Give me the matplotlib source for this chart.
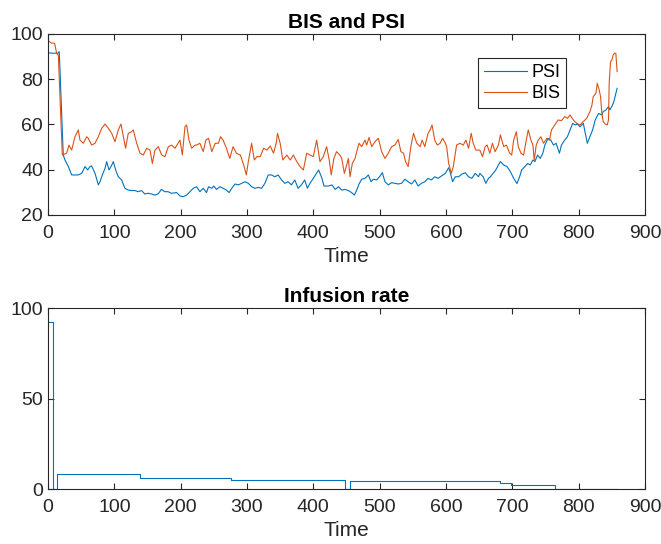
import matplotlib
matplotlib.use("Agg")
from matplotlib import pyplot as plt

# ========== data ==========#
bis_t = [0, 5, 10, 13, 15.6, 21.6, 28, 31.7, 35.7, 40.7, 45.7, 48.2, 53.3, 58.3, 60.8, 65.8,
         70.9, 75.9, 80.9, 86, 91, 96, 101, 106, 110, 113.6, 117, 121, 126, 128.6, 133.7,
         138.7, 143.7, 148.7, 153.8, 157.3, 161.3, 166.3, 171.4, 176.4, 181.4, 186.4, 191.5,
         199, 202.5, 206.5, 209, 212.6, 216.6, 221.6,
         224, 229, 234, 238, 242, 247, 252, 257, 260, 264, 269, 274, 279, 284, 290, 295, 299,
         302, 307, 311, 315, 320, 325, 330, 335, 340, 344, 346, 350, 354, 360, 365, 370, 375,
         380, 385, 390, 395, 400, 405, 410, 415, 420, 424, 427, 431, 435, 440,
         442.8, 446.8, 450.3, 452.8, 455.3, 458.8, 462.9, 465.4, 468.9, 472.9, 477.9, 480.4,
         484, 488, 493, 498, 503, 508, 513, 518, 523, 528, 532, 536, 539, 543, 547, 551, 556,
         561, 564, 568, 573, 576, 579, 583, 587, 591, 595, 599, 601, 604, 608, 611, 616, 621,
         626, 630, 634, 638, 641, 645,
         651, 655, 659, 662, 666, 670, 674, 679, 682, 687, 691, 696, 699, 702, 706, 709, 713,
         717, 721, 724, 728, 731, 733, 736, 739, 743, 747, 752, 756, 759, 764, 769, 774, 779,
         783, 787, 792, 797, 802, 807, 812, 817, 820, 822, 826, 828, 831, 833, 835, 837, 840,
         843, 845, 846, 848, 850, 852, 854, 856, 858]
bis_v = [97.1, 96.0, 95.9, 91.5, 90.5, 46.5, 47.3, 50.9, 48.7, 54.6, 57.6, 53.1, 51.7, 54.6,
         53.9, 50.9, 51.7, 54.6, 58.3, 60.2, 58.3, 56.1, 52.4, 57.6, 60.2, 54.6, 49.5, 56.1,
         56.8, 57.6, 51.7, 47.3, 46.5, 49.5, 48.7, 42.8, 48.7, 50.2, 46.5, 45.8, 50.2, 50.9,
         49.5, 53.1, 46.5, 59.0, 59.8, 53.1, 49.5, 50.9,
         50.9, 51.7, 48.0, 53.1, 53.9, 48.0, 51.7, 51.7, 54.6, 53.1, 49.5, 45.0, 50.2, 47.3,
         46.5, 42.1, 37.7, 43.6, 51.7, 44.3, 45.8, 45.8, 49.5, 48.7, 50.5, 47.3, 51.7, 56.1,
         51.7, 44.3, 46.5, 44.3, 46.5, 43.6, 41.4, 39.9, 47.3, 46.5, 45.8, 53.1, 43.6, 45.8,
         50.2, 44.3, 37.7, 45.0, 48.0, 46.5,
         45.0, 38.4, 42.1, 45.0, 36.9, 42.8, 45.0, 48.0, 51.7, 50.2, 53.1, 50.9, 54.3, 50.2,
         52.4, 53.9, 48.0, 45.0, 47.3, 50.2, 50.9, 53.4, 48.0, 47.3, 43.6, 41.4, 50.2, 56.1,
         51.7, 50.2, 53.1, 50.2, 56.1, 57.6, 59.8, 53.1, 50.9, 51.7, 53.9, 51.7, 50.2, 42.8,
         38.4, 41.4, 50.9, 51.7, 50.9, 53.1, 49.5, 56.1, 51.7, 48.7,
         48.7, 45.8, 50.2, 50.9, 47.3, 51.7, 48.0, 50.9, 55.4, 50.2, 50.9, 47.3, 46.5, 53.1,
         56.8, 50.2, 47.3, 46.5, 53.1, 57.6, 53.1, 50.9, 44.3, 50.9, 53.1, 54.6, 51.7, 53.9,
         53.1, 57.6, 59.8, 62.0, 61.7, 63.5, 62.7, 64.2, 62.0, 60.5, 59.8, 61.3, 62.7, 65.7,
         68.6, 72.3, 73.8, 78.2, 75.2, 72.3, 64.9, 61.3, 60.2, 59.8, 62.0, 78.2, 87.8, 88.5,
         90.7, 91.5, 91.5, 83.4]

psi_t = [0, 8, 15, 17, 23, 25.6, 30.7, 35.7, 40.7, 45.7, 50.8, 53.3, 55.8, 59.8, 63.3, 65.8,
         70.9, 75.9, 78.4, 81.9, 86, 88.5, 92, 95, 98.5, 102, 106, 111, 116, 121, 126, 131,
         136, 141, 146, 151, 156, 161, 166, 171, 176, 181, 186, 194, 199, 204, 209, 214, 219,
         224, 229, 234, 239, 242, 247, 250, 254, 259, 264, 269, 273, 277, 282, 287, 292, 297,
         302, 307, 312, 317, 322, 327, 332, 337, 342, 347, 352, 357, 362, 367, 372, 377, 382,
         387, 391, 395, 400, 408, 413, 416, 423, 428, 433, 438,
         442.8, 447.8, 452.8, 457.8, 461.8, 465.4, 468.9, 472.9, 477.9, 483, 487, 490.5,
         495.5, 500.5, 504, 508, 513, 518, 523, 528, 533, 538, 543, 548, 553, 558, 563, 568,
         573, 578, 583, 588, 593, 599, 604, 606, 610, 614, 619, 624, 629, 634, 639, 644, 649,
         651, 656, 660, 664, 667, 671, 675, 679, 682, 687, 692, 697, 702, 707, 711, 714, 719,
         723, 727, 731, 734, 738, 742, 746, 749, 754, 758, 762, 766, 771, 774, 779, 783, 787,
         791, 795, 798, 802, 807, 811, 813, 817, 821, 825, 830, 835, 837, 841, 845, 847, 851,
         853, 858]
psi_v = [91.7, 91.5, 91.5, 92.2, 46.5, 44.3, 41.4, 37.7, 37.7, 37.7, 38.4, 39.9, 41.4, 39.9,
         41.4, 41.7, 38.4, 33.3, 34.7, 37.7, 40.6, 43.6, 39.9, 41.4, 43.6, 39.9, 36.9, 35.5,
         31.8, 31.0, 30.8, 30.8, 30.3, 30.8, 29.3, 29.6, 29.3, 28.8, 29.3, 31.3, 30.3, 30.3,
         29.6, 29.9, 28.4, 28.1, 28.8, 30.3, 31.8,
         32.5, 30.3, 31.8, 29.9, 32.5, 31.8, 32.8, 31.3, 32.5, 31.8, 31.0, 29.9, 31.8, 33.7,
         33.3, 34.0, 34.7, 34.0, 32.5, 31.8, 32.2, 31.8, 34.0, 37.7, 37.7, 36.9, 37.7, 35.5,
         34.0, 34.7, 33.3, 35.5, 31.8, 33.3, 35.5, 31.8, 34.0, 36.2, 39.9, 36.2, 32.8, 32.8,
         33.3, 31.3, 32.5,
         31.0, 31.3, 30.8, 29.9, 28.8, 31.0, 33.7, 35.8, 36.2, 37.7, 34.7, 35.8, 35.5, 37.2,
         38.7, 34.7, 33.3, 34.3, 34.0, 33.7, 34.0, 35.8, 34.7, 33.7, 35.5, 32.8, 34.0, 34.7,
         36.2, 35.5, 36.9, 36.2, 37.2, 38.4, 40.9, 39.2, 34.7, 36.9, 36.9, 38.1, 38.7, 36.9,
         36.2, 38.4, 36.9,
         38.4, 36.9, 34.0, 36.2, 36.9, 38.4, 39.9, 42.1, 43.6, 42.1, 41.4, 39.2, 36.2, 33.9,
         36.9, 39.9, 41.4, 42.8, 42.1, 44.3, 43.6, 46.5, 45.0, 47.3, 50.9, 53.9, 53.1, 50.9,
         51.7, 47.3, 50.9, 53.1, 54.6, 57.6, 60.5, 59.8, 60.2, 59.0, 60.5, 54.6, 51.7, 54.6,
         57.6, 62.0, 64.9, 64.2, 65.7, 66.4, 67.9, 66.4, 68.6, 70.1, 76.0]

# infusion rate, piecewise constant
inf_t = [0, 8, 14, 139, 276, 447, 455, 682, 698, 765, 858]
inf_v = [92.3, 0, 8.3, 6.1, 5.0, 0, 4.2, 3.1, 2.2, 0, 0]

blue = '#0072BD'
orange = '#D95319'
dark = '#262626'

plt.rcParams['font.family'] = ['Liberation Sans', 'DejaVu Sans']

fig = plt.figure(figsize=(6.61, 5.44), dpi=100)
ax1 = fig.add_axes([0.0726, 0.6048, 0.9032, 0.3327])
ax2 = fig.add_axes([0.0726, 0.1011, 0.9032, 0.3327])


def style(ax):
    ax.tick_params(direction='in', top=True, right=True, labelsize=14,
                   colors=dark, length=4, width=0.8)
    ax.tick_params(axis='x', pad=7)
    for s in ax.spines.values():
        s.set_color(dark)
        s.set_linewidth(0.8)
    ax.set_xlim(0, 900)
    ax.set_xticks(range(0, 901, 100))
    ax.set_xlabel('Time', fontsize=15, color=dark, labelpad=4)


ax1.plot(psi_t, psi_v, color=blue, lw=0.8, label='PSI')
ax1.plot(bis_t, bis_v, color=orange, lw=0.8, label='BIS')
style(ax1)
ax1.set_ylim(20, 100)
ax1.set_yticks([20, 40, 60, 80, 100])
ax1.set_title('BIS and PSI', fontsize=15, fontweight='bold', pad=4)
leg = ax1.legend(loc='upper left', bbox_to_anchor=(0.72, 0.867), fontsize=13,
                 fancybox=False, edgecolor=dark, framealpha=1, borderaxespad=0,
                 handlelength=2.35, borderpad=0.35, labelspacing=0.2, handletextpad=0.25)
leg.get_frame().set_linewidth(0.8)

ax2.plot(inf_t, inf_v, color=blue, lw=0.8, drawstyle='steps-post')
style(ax2)
ax2.set_ylim(0, 100)
ax2.set_yticks([0, 50, 100])
ax2.set_title('Infusion rate', fontsize=15, fontweight='bold', pad=4)

fig.savefig('out.png', dpi=100)
